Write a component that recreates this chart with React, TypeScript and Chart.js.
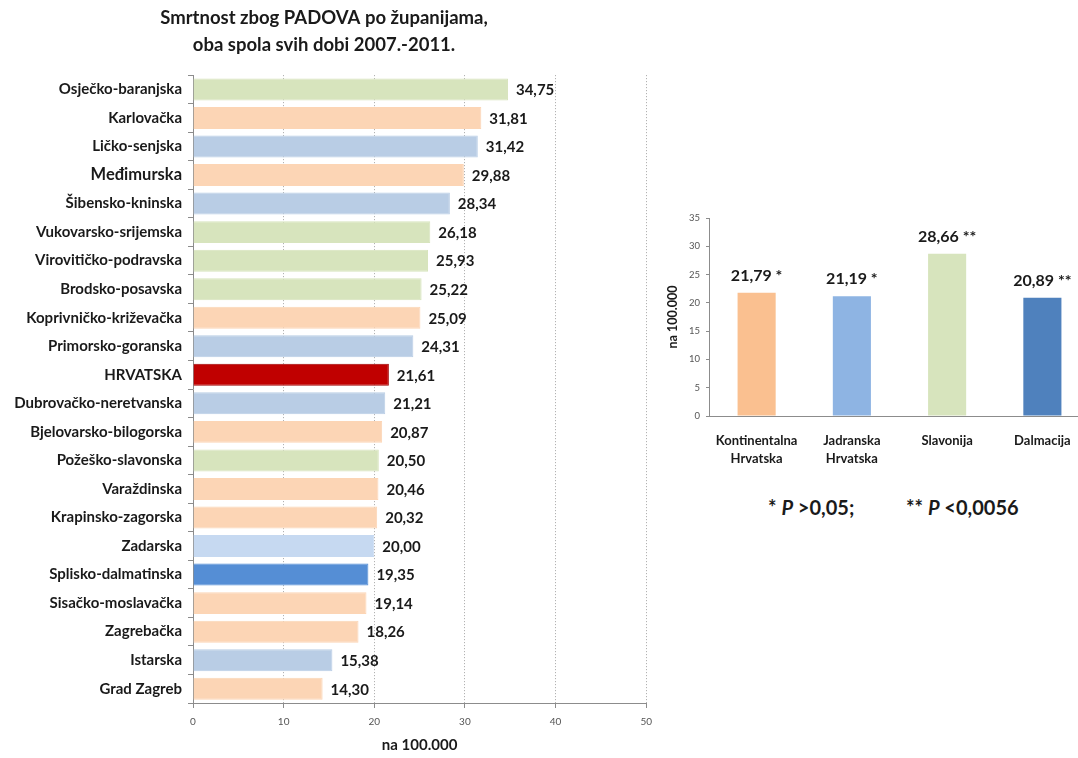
import React, { useEffect, useRef } from "react";
import { Chart, registerables } from "chart.js";

Chart.register(...registerables);

const countyLabels = [
  "Osječko-baranjska",
  "Karlovačka",
  "Ličko-senjska",
  "Međimurska",
  "Šibensko-kninska",
  "Vukovarsko-srijemska",
  "Virovitičko-podravska",
  "Brodsko-posavska",
  "Koprivničko-križevačka",
  "Primorsko-goranska",
  "HRVATSKA",
  "Dubrovačko-neretvanska",
  "Bjelovarsko-bilogorska",
  "Požeško-slavonska",
  "Varaždinska",
  "Krapinsko-zagorska",
  "Zadarska",
  "Splisko-dalmatinska",
  "Sisačko-moslavačka",
  "Zagrebačka",
  "Istarska",
  "Grad Zagreb",
];
const countyValues = [
  34.75, 31.81, 31.42, 29.88, 28.34, 26.18, 25.93, 25.22, 25.09, 24.31, 21.61,
  21.21, 20.87, 20.5, 20.46, 20.32, 20.0, 19.35, 19.14, 18.26, 15.38, 14.3,
];
const GREEN = "#d7e4bd";
const PEACH = "#fcd5b5";
const BLUE = "#b9cde5";
const countyColors = [
  GREEN, PEACH, BLUE, PEACH, BLUE, GREEN, GREEN, GREEN, PEACH, BLUE, "#c00000",
  BLUE, PEACH, GREEN, PEACH, PEACH, "#c6d9f1", "#558ed5", PEACH, PEACH, BLUE, PEACH,
];
const countyBorders = countyColors.map((c) => (c === "#c00000" ? "#a00000" : c));
const xTicks = [0, 10, 20, 30, 40, 50];

const regionLabels = [["Kontinentalna", "Hrvatska"], ["Jadranska", "Hrvatska"], "Slavonija", "Dalmacija"];
const regionValues = [21.79, 21.19, 28.66, 20.89];
const regionStars = ["*", "*", "**", "**"];
const regionColors = ["#fac090", "#8eb4e3", "#d7e4bd", "#4f81bd"];
const yTicksRight = [0, 5, 10, 15, 20, 25, 30, 35];

const FONT = "Lato, 'Open Sans', sans-serif";
const fmt = (v: number) => v.toFixed(2).replace(".", ",");

const leftLabelsPlugin = {
  id: "leftLabels",
  afterDatasetsDraw(chart: any) {
    const ctx = chart.ctx;
    const meta = chart.getDatasetMeta(0);
    ctx.save();
    ctx.font = `bold 15px ${FONT}`;
    ctx.fillStyle = "#1a1a1a";
    ctx.textAlign = "left";
    ctx.textBaseline = "middle";
    meta.data.forEach((bar: any, i: number) => {
      ctx.fillText(fmt(countyValues[i]), bar.x + 8, bar.y + 1);
    });
    ctx.restore();
  },
};

const rightLabelsPlugin = {
  id: "rightLabels",
  afterDatasetsDraw(chart: any) {
    const ctx = chart.ctx;
    const meta = chart.getDatasetMeta(0);
    ctx.save();
    ctx.font = `bold 16px ${FONT}`;
    ctx.fillStyle = "#1a1a1a";
    ctx.textAlign = "center";
    ctx.textBaseline = "middle";
    meta.data.forEach((bar: any, i: number) => {
      ctx.fillText(fmt(regionValues[i]) + " " + regionStars[i], bar.x, bar.y - 17);
    });
    ctx.restore();
  },
};

export default function App() {
  const leftRef = useRef<HTMLCanvasElement>(null);
  const rightRef = useRef<HTMLCanvasElement>(null);

  useEffect(() => {
    const left = new Chart(leftRef.current!, {
      type: "bar",
      data: {
        labels: countyLabels,
        datasets: [
          {
            data: countyValues,
            backgroundColor: countyColors,
            borderColor: countyBorders,
            borderWidth: 1,
            barPercentage: 0.77,
            categoryPercentage: 1,
          },
        ],
      },
      options: {
        indexAxis: "y",
        animation: false,
        responsive: false,
        maintainAspectRatio: false,
        layout: { padding: { left: 0, right: 12, top: 0, bottom: 0 } },
        plugins: {
          legend: { display: false },
          tooltip: { enabled: false },
          title: {
            display: true,
            text: ["Smrtnost zbog PADOVA po županijama,", "oba spola svih dobi 2007.-2011."],
            font: { family: FONT, size: 18.5, weight: "bold", lineHeight: 1.45 },
            color: "#1a1a1a",
            padding: { top: 4.5, bottom: 17 },
          },
        },
        scales: {
          x: {
            min: 0,
            max: 50,
            afterBuildTicks: (scale: any) => {
              scale.ticks = xTicks.map((v) => ({ value: v }));
            },
            afterFit: (scale: any) => {
              scale.height = 55;
            },
            grid: {
              display: true,
              drawOnChartArea: true,
              drawTicks: true,
              tickLength: 5,
              color: (c: any) => (c.tick && c.tick.value === 0 ? "rgba(0,0,0,0)" : "#a6a6a6"),
              tickColor: "#8c8c8c",
              lineWidth: 1,
            },
            border: { display: true, color: "#8c8c8c", width: 1, dash: [1, 2] },
            ticks: {
              color: "#555",
              font: { family: FONT, size: 10 },
              padding: 8,
            },
            title: {
              display: true,
              text: "na 100.000",
              color: "#1a1a1a",
              font: { family: FONT, size: 15, weight: "bold" },
              padding: { top: 0, bottom: 4 },
            },
          },
          y: {
            afterFit: (scale: any) => {
              scale.width = 193;
            },
            grid: {
              display: true,
              drawOnChartArea: false,
              drawTicks: true,
              tickLength: 5,
              offset: true,
              tickColor: "#8c8c8c",
            },
            border: { display: true, color: "#8c8c8c", width: 1 },
            ticks: {
              color: "#1a1a1a",
              padding: 6,
              autoSkip: false,
              font: (c: any) => ({
                family: FONT,
                size: c.index === 3 ? 16.5 : 15,
                weight: "bold",
              }),
            },
          },
        },
      },
      plugins: [leftLabelsPlugin],
    } as any);

    const right = new Chart(rightRef.current!, {
      type: "bar",
      data: {
        labels: regionLabels,
        datasets: [
          {
            data: regionValues,
            backgroundColor: regionColors,
            barPercentage: 0.4,
            categoryPercentage: 1,
          },
        ],
      },
      options: {
        animation: false,
        responsive: false,
        maintainAspectRatio: false,
        layout: { padding: { left: 0, right: 0, top: 23, bottom: 0 } },
        plugins: {
          legend: { display: false },
          tooltip: { enabled: false },
          title: { display: false },
        },
        scales: {
          x: {
            afterFit: (scale: any) => {
              scale.height = 59;
            },
            grid: { display: false },
            border: { display: true, color: "#8c8c8c", width: 1 },
            ticks: {
              color: "#1a1a1a",
              padding: 8,
              maxRotation: 0,
              font: { family: FONT, size: 13, weight: "bold", lineHeight: 1.4 },
            },
          },
          y: {
            min: 0,
            max: 35,
            afterBuildTicks: (scale: any) => {
              scale.ticks = yTicksRight.map((v) => ({ value: v }));
            },
            afterFit: (scale: any) => {
              scale.width = 69;
            },
            grid: {
              display: true,
              drawOnChartArea: false,
              drawTicks: true,
              tickLength: 3,
              tickColor: "#8c8c8c",
            },
            border: { display: true, color: "#8c8c8c", width: 1 },
            ticks: {
              color: "#555",
              padding: 6,
              font: { family: FONT, size: 9.5 },
            },
            title: {
              display: true,
              text: "na 100.000",
              color: "#1a1a1a",
              font: { family: FONT, size: 12.5, weight: "bold" },
              padding: { top: 25, bottom: 0 },
            },
          },
        },
      },
      plugins: [rightLabelsPlugin],
    } as any);

    return () => {
      left.destroy();
      right.destroy();
    };
  }, []);

  const noteStyle: React.CSSProperties = {
    position: "absolute",
    top: 494,
    fontFamily: FONT,
    fontWeight: "bold",
    fontSize: 20,
    color: "#1a1a1a",
    whiteSpace: "pre",
    lineHeight: "26px",
  };

  return (
    <div
      style={{
        position: "absolute",
        left: 0,
        top: 0,
        width: 1078,
        height: 758,
        overflow: "hidden",
        background: "#fff",
      }}
    >
      <canvas
        ref={leftRef}
        width={660}
        height={758}
        style={{ position: "absolute", left: 0, top: 0, width: 660, height: 758 }}
      />
      <canvas
        ref={rightRef}
        width={450}
        height={280}
        style={{ position: "absolute", left: 640, top: 195, width: 450, height: 280 }}
      />
      <div style={{ ...noteStyle, left: 768 }}>
        {"* "}
        <i>P</i>
        {" >0,05;"}
      </div>
      <div style={{ ...noteStyle, left: 906 }}>
        {"** "}
        <i>P</i>
        {" <0,0056"}
      </div>
    </div>
  );
}
